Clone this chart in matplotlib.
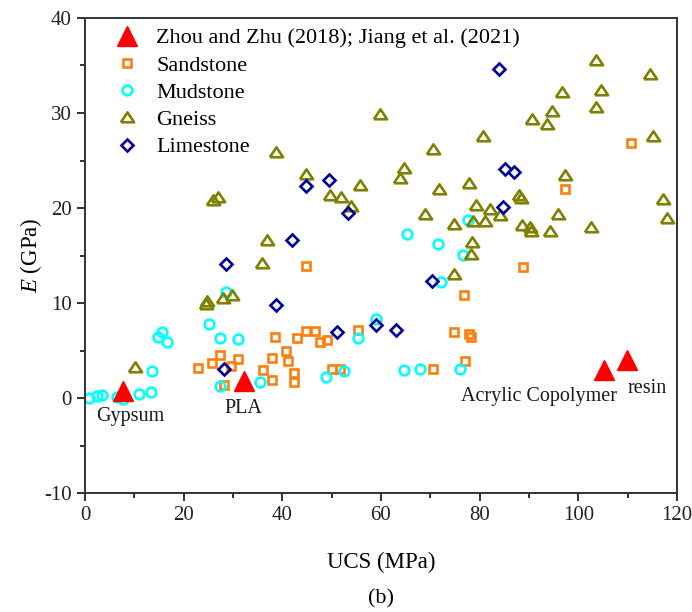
import matplotlib
matplotlib.use("Agg")
import matplotlib.pyplot as plt
from matplotlib.ticker import MultipleLocator

plt.rcParams['font.family'] = ['Liberation Serif', 'DejaVu Serif']
plt.rcParams['mathtext.fontset'] = 'custom'
plt.rcParams['mathtext.rm'] = 'Liberation Serif'
plt.rcParams['mathtext.it'] = 'Liberation Serif:italic'
plt.rcParams['axes.unicode_minus'] = False

# Printed analogue materials (Zhou and Zhu 2018; Jiang et al. 2021)
mat_names = ["Gypsum", "PLA", "Acrylic Copolymer", "resin"]
mat_ucs = [7.8, 32.2, 105.2, 109.8]
mat_e = [0.75, 1.8, 2.9, 4.0]

sand_ucs = [23.0, 25.8, 27.3, 29.7, 31.0, 36.0, 28.1, 38.0, 38.5, 40.7, 41.1, 38.0,
            42.4, 42.4, 43.0, 44.9, 46.6, 47.6, 49.1, 50.0, 51.7, 55.4, 44.8, 70.6,
            74.7, 77.8, 78.2, 77.0, 76.9, 88.7, 97.3, 110.7]
sand_e = [3.2, 3.7, 4.5, 3.4, 4.1, 3.0, 1.4, 4.2, 6.4, 4.9, 3.9, 1.9,
          2.6, 1.7, 6.3, 7.1, 7.1, 5.9, 6.1, 3.1, 3.1, 7.2, 13.9, 3.1,
          6.9, 6.7, 6.4, 3.9, 10.8, 13.8, 22.0, 26.8]

mud_ucs = [0.9, 2.5, 3.4, 6.4, 7.8, 11.0, 13.3, 13.5, 15.7, 14.9, 16.6, 25.1, 27.4,
           31.1, 27.4, 35.4, 28.6, 48.8, 52.5, 55.4, 59.0, 64.7, 67.9, 76.0, 65.2,
           71.5, 77.7, 76.6, 72.1]
mud_e = [0.0, 0.2, 0.3, 0.1, -0.1, 0.4, 0.6, 2.8, 7.0, 6.4, 5.9, 7.8, 6.3,
         6.2, 1.3, 1.7, 11.2, 2.2, 2.8, 6.3, 8.3, 3.0, 3.1, 3.1, 17.3,
         16.2, 18.7, 15.1, 12.2]

gneiss_ucs = [10.1, 24.6, 24.7, 27.9, 29.9, 25.9, 27.0, 35.8, 36.8, 38.7, 44.8, 49.7,
              51.9, 53.9, 55.7, 59.8, 63.9, 64.7, 68.9, 70.6, 71.8, 74.8, 74.8, 77.8,
              78.2, 78.5, 78.7, 79.3, 80.6, 81.1, 82.0, 84.1, 88.0, 88.3, 88.5, 90.2,
              90.5, 90.7, 93.6, 94.6, 94.3, 95.8, 96.6, 97.3, 102.6, 103.6, 103.6,
              104.5, 114.5, 115.1, 117.2, 117.9]
gneiss_e = [3.3, 9.9, 10.2, 10.5, 10.8, 20.8, 21.2, 14.2, 16.6, 25.9, 23.6, 21.4,
            21.2, 20.2, 22.4, 29.9, 23.2, 24.2, 19.4, 26.2, 22.0, 13.1, 18.3, 22.6,
            15.2, 16.4, 18.6, 20.3, 27.6, 18.6, 19.9, 19.3, 21.4, 21.1, 18.2, 18.0,
            17.6, 29.4, 28.8, 30.2, 17.6, 19.4, 32.2, 23.5, 18.0, 35.6, 30.6,
            32.4, 34.1, 27.6, 21.0, 18.9]

lime_ucs = [28.2, 28.6, 38.8, 42.0, 44.9, 49.5, 53.4, 51.1, 59.0, 63.0, 70.3, 83.9,
            85.2, 86.9, 84.8]
lime_e = [3.1, 14.1, 9.8, 16.6, 22.3, 22.9, 19.5, 7.0, 7.7, 7.2, 12.3, 34.6,
          24.1, 23.8, 20.1]

# label anchor positions for the printed materials
mat_label_x = [9.1, 32.1, 92.0, 113.9]
mat_label_y = [-1.9, -1.1, 0.15, 0.95]

fig = plt.figure(figsize=(6.92, 6.12), dpi=100)
ax = fig.add_axes([0.1228, 0.1944, 0.8555, 0.7762])

# wide, flat open triangle for the gneiss points
flat_tri = [(-1.0, -0.72), (1.0, -0.72), (0.0, 0.78), (-1.0, -0.72)]

open_kw = dict(linestyle='none', markerfacecolor='none', markeredgewidth=1.9)
ax.plot(mat_ucs, mat_e, linestyle='none', marker='^', markersize=15,
        color='#ff0000', label='Zhou and Zhu (2018); Jiang et al. (2021)', zorder=5)
ax.plot(sand_ucs, sand_e, marker='s', markersize=6.2, markeredgecolor='#ff7f0e',
        label='Sandstone', **open_kw)
ax.plot(mud_ucs, mud_e, marker='o', markersize=7, markeredgecolor='#00ffff',
        label='Mudstone', **open_kw)
ax.plot(gneiss_ucs, gneiss_e, marker=flat_tri, markersize=9.5, markeredgecolor='#808000',
        label='Gneiss', **open_kw)
ax.plot(lime_ucs, lime_e, marker='D', markersize=6.4, markeredgecolor='#000099',
        label='Limestone', **open_kw)

for name, lx, ly in zip(mat_names, mat_label_x, mat_label_y):
    ax.text(lx, ly, name, ha='center', va='center', fontsize=14.5, color='#1a1a1a')

ax.set_xlim(0, 120)
ax.set_ylim(-10, 40)
ax.xaxis.set_major_locator(MultipleLocator(20))
ax.xaxis.set_minor_locator(MultipleLocator(10))
ax.yaxis.set_major_locator(MultipleLocator(10))
ax.yaxis.set_minor_locator(MultipleLocator(5))
ax.tick_params(which='both', direction='out', top=False, right=False,
               labelsize=15, colors='#222222', width=1.3)
ax.tick_params(which='major', length=6)
ax.tick_params(which='minor', length=3.5)
for sp in ax.spines.values():
    sp.set_linewidth(1.4)
    sp.set_color('#333333')

ax.set_xlabel('UCS (MPa)', fontsize=16.5, labelpad=19)
ax.set_ylabel(r'$E$ (GPa)', fontsize=16.5, labelpad=0)

leg = ax.legend(loc='upper left', bbox_to_anchor=(0.017, 1.012), frameon=False,
                fontsize=16, handletextpad=0.55, labelspacing=0.3,
                handlelength=1.5, borderaxespad=0.3)

fig.text(0.551, 0.006, '(b)', ha='center', va='bottom', fontsize=16)

fig.savefig('out.png', dpi=100)
